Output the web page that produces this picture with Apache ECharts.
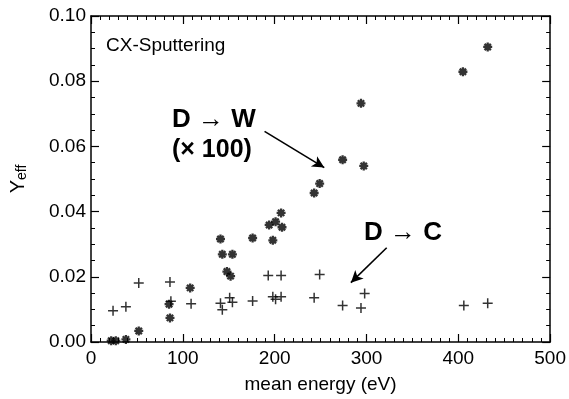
<!DOCTYPE html>
<html><head><meta charset="utf-8">
<script src="https://cdn.jsdelivr.net/npm/echarts@6/dist/echarts.min.js"></script>
<style>html,body{margin:0;padding:0;background:#fff}#c{width:569px;height:399px}</style>
</head><body><div id="c"></div>
<script>
// D -> W (x100)
var wEnergy = [22, 27, 38, 52, 85, 86, 108, 141, 143, 154, 148, 152, 176, 194, 201, 207, 208, 198, 243, 249, 274, 297, 294, 405, 432];
var wYield  = [0.0004, 0.0004, 0.0008, 0.0034, 0.0116, 0.0074, 0.0166, 0.0316, 0.0269, 0.0269, 0.0216, 0.0202, 0.0319, 0.0359, 0.0369, 0.0396, 0.0352, 0.0312, 0.0457, 0.0486, 0.0559, 0.0540, 0.0732, 0.0829, 0.0905];
// D -> C
var cEnergy = [24, 38, 52, 86, 87, 109, 141, 143, 151, 154, 176, 193, 207, 198, 201, 207, 249, 243, 274, 294, 298, 406, 432];
var cYield  = [0.0096, 0.0108, 0.0181, 0.0184, 0.0125, 0.0117, 0.0119, 0.0099, 0.0136, 0.0122, 0.0126, 0.0204, 0.0204, 0.0139, 0.0131, 0.0139, 0.0207, 0.0136, 0.0112, 0.0104, 0.0149, 0.0112, 0.0119];
var xTicks = [0, 100, 200, 300, 400, 500];
var yTicks = [0.00, 0.02, 0.04, 0.06, 0.08, 0.10];
var arrowW = [[189, 0.0646], [254, 0.0535]];
var arrowC = [[322, 0.0289], [283, 0.0182]];

var chart = echarts.init(document.getElementById('c'), null, {renderer: 'canvas'});
var FONT = 'Liberation Sans';
function pairs(xs, ys){ return xs.map(function(x,i){return [x, ys[i]];}); }
function ax(extra, minorSplit){
  return Object.assign({
    min: 0, axisLine: {show: true, onZero: false, lineStyle: {color: '#000', width: 1.5}},
    axisTick: {inside: true, length: 8, lineStyle: {color: '#000', width: 1.2}},
    minorTick: {show: true, splitNumber: minorSplit, length: 4, lineStyle: {color: '#000', width: 1}},
    splitLine: {show: false}
  }, extra);
}
var starPath = 'path://M5,0L5,10M0,5L10,5M1.5,1.5L8.5,8.5M8.5,1.5L1.5,8.5';
var plusPath = 'path://M5,0L5,10M0,5L10,5';
chart.setOption({
  animation: false,
  grid: {left: 86, right: 16, top: 16, bottom: 52},
  xAxis: [
    ax({type: 'value', max: 500, interval: 100, position: 'bottom',
      axisLabel: {color: '#000', fontFamily: FONT, fontSize: 19, margin: 7,
        formatter: function(v){ return xTicks.indexOf(v) >= 0 ? String(v) : ''; }},
      name: 'mean energy (eV)', nameLocation: 'middle', nameGap: 33,
      nameTextStyle: {color: '#000', fontFamily: FONT, fontSize: 19}}, 10),
    ax({type: 'value', max: 500, interval: 100, position: 'top', axisLabel: {show: false}}, 10)
  ],
  yAxis: [
    ax({type: 'value', max: 0.10, interval: 0.02, position: 'left',
      axisLabel: {color: '#000', fontFamily: FONT, fontSize: 19, margin: 5,
        formatter: function(v){ return v.toFixed(2); }},
      name: '{y|Y}{s|eff}', nameLocation: 'middle', nameGap: 62,
      nameTextStyle: {rich: {y: {fontFamily: FONT, fontSize: 20, color: '#000'},
        s: {fontFamily: FONT, fontSize: 14, color: '#000', verticalAlign: 'bottom', padding: [8,0,0,0]}}}}, 4),
    ax({type: 'value', max: 0.10, interval: 0.02, position: 'right', axisLabel: {show: false}}, 4)
  ],
  series: [
    {type: 'scatter', name: 'D->W', data: pairs(wEnergy, wYield), symbol: starPath, symbolSize: 9,
      itemStyle: {color: 'none', borderColor: '#000', borderWidth: 2.3},
      markLine: {silent: true, symbol: ['none', 'arrow'], symbolSize: [9, 12],
        lineStyle: {color: '#000', width: 1.6, type: 'solid'}, label: {show: false},
        data: [[{coord: arrowW[0]}, {coord: arrowW[1]}], [{coord: arrowC[0]}, {coord: arrowC[1]}]]}},
    {type: 'scatter', name: 'D->C', data: pairs(cEnergy, cYield), symbol: plusPath, symbolSize: 10,
      itemStyle: {color: 'none', borderColor: '#000', borderWidth: 1.5}}
  ],
  graphic: [
    {type: 'text', left: 106, top: 36, style: {text: 'CX-Sputtering', font: '19px ' + FONT, fill: '#000'}},
    {type: 'text', left: 172, top: 107, style: {text: 'D \u2192 W', font: 'bold 26px ' + FONT, fill: '#000'}},
    {type: 'text', left: 172, top: 138, style: {text: '(\u00d7 100)', font: 'bold 25px ' + FONT, fill: '#000'}},
    {type: 'text', left: 364, top: 220, style: {text: 'D \u2192 C', font: 'bold 26px ' + FONT, fill: '#000'}}
  ]
});
</script></body></html>
